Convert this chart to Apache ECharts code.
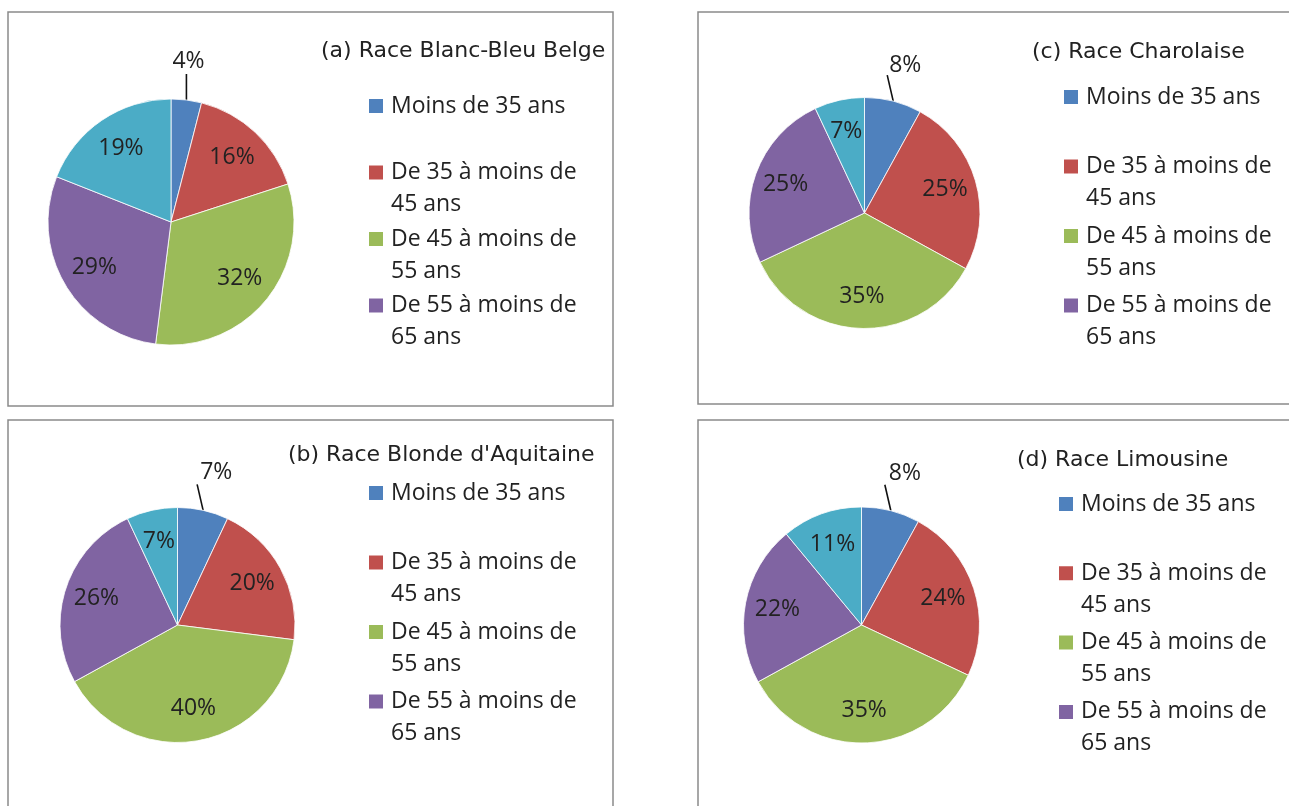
<!DOCTYPE html>
<html><head><meta charset="utf-8">
<script src="https://cdn.jsdelivr.net/npm/echarts@6/dist/echarts.min.js"></script>
<style>html,body{margin:0;padding:0;background:#fff;}#c{width:1289px;height:806px;}</style>
</head><body><div id="c"></div>
<script>
// ---- data ----
const categories = ['Moins de 35 ans', 'De 35 à moins de 45 ans', 'De 45 à moins de 55 ans', 'De 55 à moins de 65 ans', '65 ans et plus'];
const legendTexts = ['Moins de 35 ans', 'De 35 à moins de\n45 ans', 'De 45 à moins de\n55 ans', 'De 55 à moins de\n65 ans'];
const titles = ['(a) Race Blanc-Bleu Belge', '(b) Race Blonde d\'Aquitaine', '(c) Race Charolaise', '(d) Race Limousine'];
const valuesA = [4, 16, 32, 29, 19];
const valuesB = [7, 20, 40, 26, 7];
const valuesC = [8, 25, 35, 25, 7];
const valuesD = [8, 24, 35, 22, 11];
const colors = ['#4F81BD', '#C0504D', '#9BBB59', '#8064A2', '#4BACC6'];

// ---- layout / style ----
const FONT = 'Open Sans';
const TITLE_FONT = 'DejaVu Sans';
const TXT = '#222222';
const panels = [
  {title: titles[0], values: valuesA, center: [171, 222], r: 123, titleLeft: 321, titleTop: 39, legendLeft: 367, legendTop: 58, spacing: 66.5, lean: 0, lblDx: -14, lblDy: -13, frame: [8, 12, 605, 394]},
  {title: titles[1], values: valuesB, center: [177.5, 625], r: 117.5, titleLeft: 288, titleTop: 443, legendLeft: 367, legendTop: 445, spacing: 69.5, lean: -6, lblDx: 3, lblDy: -12, frame: [8, 420, 605, 400]},
  {title: titles[2], values: valuesC, center: [864.5, 213], r: 115.5, titleLeft: 1032, titleTop: 40, legendLeft: 1062, legendTop: 49, spacing: 69.5, lean: -6, lblDx: 2, lblDy: -10, frame: [698, 12, 620, 392]},
  {title: titles[3], values: valuesD, center: [861.5, 625], r: 118, titleLeft: 1017, titleTop: 448, legendLeft: 1057, legendTop: 456, spacing: 69.3, lean: -6, lblDx: 4, lblDy: -11, frame: [698, 420, 620, 400]}
];

const legendMap = {};
categories.slice(0, 4).forEach((c, i) => { legendMap[c] = legendTexts[i]; });

const option = {
  animation: false,
  backgroundColor: '#fff',
  color: colors,
  title: [],
  legend: [],
  series: [],
  graphic: []
};

panels.forEach((p) => {
  option.graphic.push({
    type: 'rect', silent: true, z: -1,
    shape: {x: p.frame[0], y: p.frame[1], width: p.frame[2], height: p.frame[3]},
    style: {fill: 'none', stroke: '#8a8a8a', lineWidth: 1.5}
  });
  option.title.push({
    text: p.title, left: p.titleLeft, top: p.titleTop, padding: 0,
    textStyle: {fontFamily: TITLE_FONT, fontSize: 22, fontWeight: 'normal', color: TXT, lineHeight: 24}
  });
  option.legend.push({
    orient: 'vertical', left: p.legendLeft, top: p.legendTop, padding: 0,
    itemWidth: 16, itemHeight: 16, itemGap: p.spacing - 96, icon: 'rect',
    selectedMode: false,
    data: categories.slice(0, 4),
    formatter: (name) => {
      const t = legendMap[name];
      return '\u00a0\n' + t + (t.indexOf('\n') < 0 ? '\n\u00a0' : '');
    },
    textStyle: {fontFamily: FONT, fontSize: 23, color: TXT, lineHeight: 32, padding: [0, 0, 0, 2]}
  });
  const data = categories.map((n, i) => ({name: n, value: p.values[i]}));
  option.series.push({
    type: 'pie', center: p.center, radius: p.r, startAngle: 90, clockwise: true,
    silent: true, data: data,
    itemStyle: {borderColor: '#ffffff', borderWidth: 0.8},
    label: {show: false}, labelLine: {show: false}
  });
  const labelData = categories.map((n, i) => {
    const d = {name: n, value: p.values[i]};
    if (i === 0) {
      d.label = {position: 'outside'};
      d.labelLine = {show: true, length: 20, length2: 0, lineStyle: {color: '#111', width: 1.6}};
    }
    return d;
  });
  option.series.push({
    type: 'pie', center: p.center, radius: [p.r * 0.4, p.r], startAngle: 90, clockwise: true,
    silent: true, data: labelData,
    itemStyle: {color: 'rgba(0,0,0,0)'},
    label: {show: true, position: 'inside', formatter: '{c}%', fontFamily: FONT, fontSize: 23, color: TXT},
    labelLine: {show: false},
    labelLayout: (params) => {
      if (params.dataIndex !== 0 || !params.labelLinePoints) return {};
      const s = params.labelLinePoints[0];
      const top = [s[0] + p.lean, s[1] - 26];
      return {
        x: top[0] + p.lblDx, y: top[1] + p.lblDy, align: 'left', verticalAlign: 'middle',
        labelLinePoints: [[s[0], s[1]], [top[0], top[1]], [top[0], top[1]]]
      };
    }
  });
});

const chart = echarts.init(document.getElementById('c'), null, {renderer: 'canvas'});
chart.setOption(option);
</script>
</body></html>
